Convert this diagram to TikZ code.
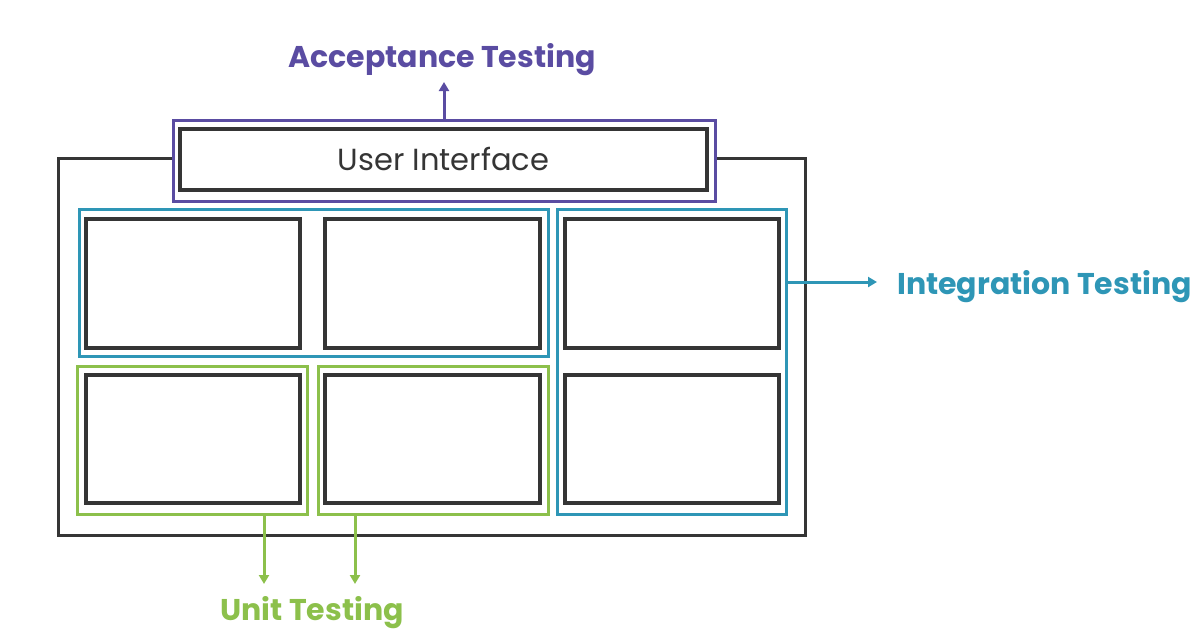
\documentclass[tikz,border=0pt]{standalone}
\usepackage{fontspec}
\setmainfont{Poppins}
\usetikzlibrary{arrows.meta}
\definecolor{ink}{HTML}{353535}
\definecolor{accpurple}{HTML}{5A4CA2}
\definecolor{intteal}{HTML}{2E96B6}
\definecolor{unitgreen}{HTML}{8CC04B}
\begin{document}
\begin{tikzpicture}[x=1pt,y=-1pt,
  box/.style={draw=#1, rectangle, inner sep=0pt, outer sep=0pt, anchor=north west, line join=miter},
  blk/.style={box=ink, line width=3.5pt},
  grp/.style={box=#1, line width=3pt},
  lbl/.style={font=\bfseries\fontsize{30}{34}\selectfont, text=#1, inner sep=0pt},
  arr/.style={draw=#1, line width=3pt, -{Triangle[length=9pt,width=10pt]}}]
\useasboundingbox (0,0) rectangle (1199,637);
% outer application box
\node[blk, line width=3pt, minimum width=747pt, minimum height=377pt] (outer) at (58,158) {};
% UI group
\node[grp=accpurple, fill=white, minimum width=542pt, minimum height=81pt] (P) at (173,120) {};
\node[blk, line width=4pt, minimum width=527pt, minimum height=61pt, font=\fontsize{30.5}{34}\selectfont, text=ink, text height=22pt, text depth=0pt] (UI) at (180,129) {User Interface};
% integration groups
\node[grp=intteal, minimum width=469pt, minimum height=147pt] (T1) at (79,209) {};
\node[grp=intteal, minimum width=229pt, minimum height=305pt] (T2) at (557,209) {};
% unit groups
\node[grp=unitgreen, minimum width=230pt, minimum height=148pt] (G1) at (77,366) {};
\node[grp=unitgreen, minimum width=230pt, minimum height=148pt] (G2) at (318,366) {};
% components
\node[blk, minimum width=214pt, minimum height=129pt] (b1) at (86,219) {};
\node[blk, minimum width=215pt, minimum height=129pt] (b2) at (325,219) {};
\node[blk, minimum width=214pt, minimum height=129pt] (b3) at (565,219) {};
\node[blk, minimum width=214pt, minimum height=128pt] (b4) at (86,375) {};
\node[blk, minimum width=215pt, minimum height=128pt] (b5) at (325,375) {};
\node[blk, minimum width=214pt, minimum height=128pt] (b6) at (565,375) {};
% labels
\node[lbl=accpurple, anchor=base] (AT) at (442,67) {Acceptance Testing};
\node[lbl=intteal, anchor=base west] (IT) at (897,294) {Integration Testing};
\node[lbl=unitgreen, anchor=base] (UT) at (312,620) {Unit Testing};
% arrows
\coordinate (ATtip) at (444,82);
\draw[arr=accpurple] (P.north) -- (ATtip);
\coordinate (ITtip) at (877,282);
\draw[arr=intteal] (T2.east |- ITtip) -- (ITtip);
\coordinate (UT1tip) at (264,584);
\coordinate (UT2tip) at (355,584);
\draw[arr=unitgreen] (G1.south -| UT1tip) -- (UT1tip);
\draw[arr=unitgreen] (G2.south -| UT2tip) -- (UT2tip);
\end{tikzpicture}
\end{document}
